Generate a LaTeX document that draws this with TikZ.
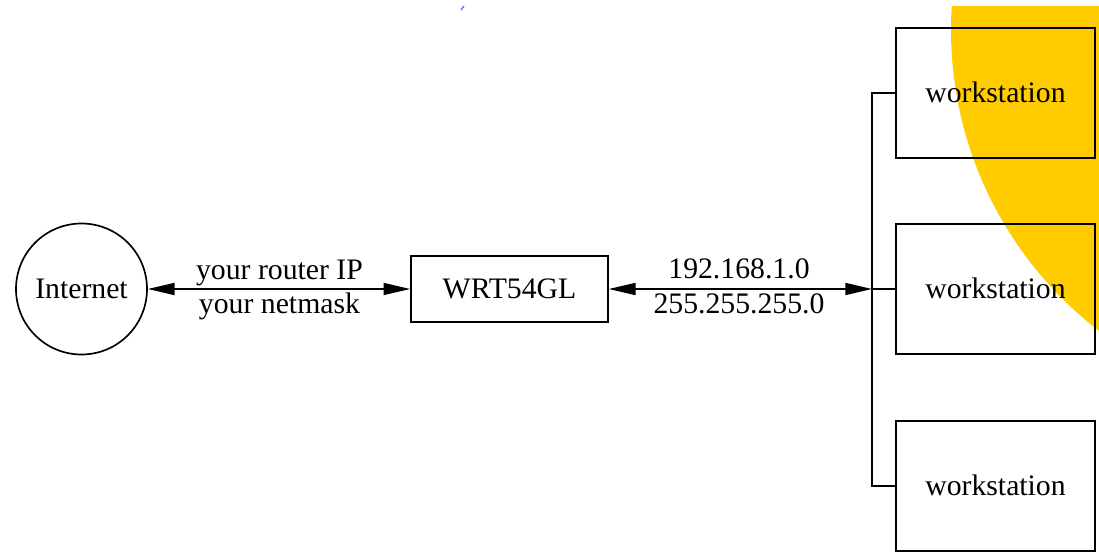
\documentclass[tikz,border=0pt]{standalone}
\usepackage{fontspec}
\setmainfont{Liberation Serif}
\usetikzlibrary{arrows.meta}
\definecolor{sunyellow}{RGB}{255,204,0}
\definecolor{specblue}{RGB}{110,110,240}
\begin{document}
\begin{tikzpicture}[x=0.75pt,y=-0.75pt,line width=1.25pt,
    netlink/.style={{Triangle[length=20pt,width=9pt]}-{Triangle[length=20pt,width=9pt]}},
    cloud/.style={draw,circle,minimum size=98.25pt},
    router/.style={draw,rectangle,minimum width=147.75pt,minimum height=49.5pt},
    station/.style={draw,rectangle,minimum width=149.25pt,minimum height=97.5pt},
    lbl/.style={anchor=base,text height=,text depth=}]
    \tikzstyle{every node}+=[inner sep=0pt,font=\fontsize{22.3}{26}\selectfont,text height=18pt,text depth=4pt]
    \useasboundingbox (0,0) rectangle (1099,552);
    \begin{scope}
        \clip (0,7) rectangle (1099,552);
        \fill [sunyellow] (1331,30) circle (285pt);
    \end{scope}
    \draw [specblue,line width=1pt] (461,10) -- (464,6);
    \node [cloud] (inet) at (81.5,289) {Internet};
    \node [router] (wrt) at (509.5,289) {WRT54GL};
    \node [station] (ws1) at (995.5,93) {workstation};
    \node [station] (ws2) at (995.5,289) {workstation};
    \node [station] (ws3) at (995.5,486) {workstation};
    \coordinate (jn) at (872,289);
    \draw [netlink] (inet) -- (wrt);
    \node [lbl] (rtrip) at (279.5,280) {your router IP};
    \node [lbl] (rtrmask) at (279.5,313) {your netmask};
    \draw [netlink] (wrt) -- (jn);
    \node [lbl] (lanip) at (739,279) {192.168.1.0};
    \node [lbl] (lanmask) at (739,313) {255.255.255.0};
    \draw (ws1.west) -| (jn) |- (ws3.west);
    \draw (jn) -- (ws2.west);
\end{tikzpicture}
\end{document}
